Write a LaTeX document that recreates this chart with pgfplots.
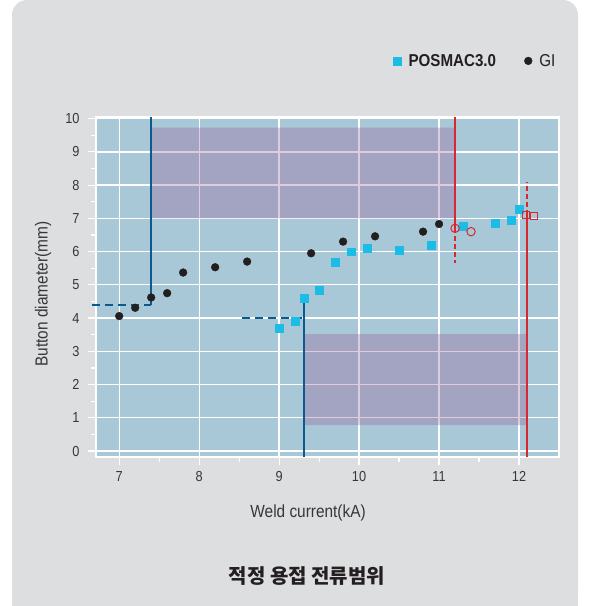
\documentclass[border=0pt]{standalone}
\usepackage{fontspec}
\setmainfont{Liberation Sans}[FakeStretch=0.88]
\newfontfamily\kr{Noto Sans CJK KR}
\usepackage{pgfplots}
\pgfplotsset{compat=1.18}
\definecolor{bggray}{RGB}{221,222,223}
\definecolor{plotbg}{RGB}{168,200,216}
\definecolor{lineblue}{RGB}{10,90,143}
\definecolor{linered}{RGB}{215,40,47}
\definecolor{cyanmk}{RGB}{27,189,230}
\definecolor{darkmk}{RGB}{35,31,32}
\definecolor{purp}{RGB}{151,83,146}
\definecolor{txt}{RGB}{55,55,55}
\begin{document}
\begin{tikzpicture}
\useasboundingbox (0,0) rectangle (590bp,606bp);
\fill[bggray, rounded corners=15bp] (12bp,0bp) rectangle (578bp,606bp);
\fill[bggray] (12bp,0bp) rectangle (578bp,40bp);
\begin{axis}[
  at={(96bp,149bp)}, anchor=south west,
  width=463bp, height=340bp, scale only axis,
  xmin=6.71, xmax=12.5, ymin=-0.18, ymax=10.05,
  xtick={7,8,9,10,11,12}, ytick={0,1,2,3,4,5,6,7,8,9,10},
  minor x tick num=1, minor y tick num=1,
  tick align=outside, tick pos=left,
  major tick length=8bp, minor tick length=5bp,
  every tick/.style={white, line width=1.2bp},
  grid=major, major grid style={white, line width=1.3bp},
  axis line style={white, line width=1.3bp},
  axis background/.style={fill=plotbg},
  /pgf/number format/assume math mode=true,
  tick label style={font=\fontsize{14.5bp}{16bp}\selectfont, text=txt},
  yticklabel style={xshift=-5bp},
  xticklabel style={yshift=-3bp},
  xlabel={Weld current(kA)}, ylabel={Button diameter(mm)},
  label style={font=\fontsize{17.5bp}{20bp}\selectfont, text=txt},
  xlabel style={at={(axis description cs:0.458,-0.165)}, anchor=center},
  ylabel style={at={(axis description cs:-0.1145,0.479)}, anchor=center, rotate=0},
  clip=false,
  legend style={at={(axis description cs:0.6415,1.165)}, anchor=west, draw=none, fill=none,
    inner sep=0pt, font=\fontsize{17.2bp}{19bp}\selectfont, text=darkmk,
    /tikz/every even column/.append style={column sep=26bp}},
  legend columns=2,
  legend image code/.code={\path (0bp,0bp) (13bp,0bp);\draw[mark repeat=2,mark phase=2,#1] plot coordinates {(0bp,0bp)(4bp,0bp)(13bp,0bp)};},
]
% shaded ranges
\addplot[draw=none, fill=purp, fill opacity=0.3, forget plot] coordinates {(7.4,7.0) (11.2,7.0) (11.2,9.73) (7.4,9.73) (7.4,7.0)};
\addplot[draw=none, fill=purp, fill opacity=0.3, forget plot] coordinates {(9.31,0.78) (12.1,0.78) (12.1,3.52) (9.31,3.52) (9.31,0.78)};
% blue limit lines
\addplot[lineblue, line width=1.8bp, forget plot] coordinates {(7.4,4.4) (7.4,10.05)};
\addplot[lineblue, line width=1.8bp, dash pattern=on 8bp off 5bp, forget plot] coordinates {(6.66,4.4) (7.4,4.4)};
\addplot[lineblue, line width=1.8bp, forget plot] coordinates {(9.31,-0.18) (9.31,4.6)};
\addplot[lineblue, line width=1.8bp, dash pattern=on 8bp off 5bp, forget plot] coordinates {(8.54,4.0) (9.31,4.0)};
% red limit lines
\addplot[linered, line width=1.8bp, forget plot] coordinates {(11.2,10.05) (11.2,6.7)};
\addplot[linered, line width=1.8bp, dash pattern=on 5bp off 3bp, forget plot] coordinates {(11.2,6.7) (11.2,5.67)};
\addplot[linered, line width=1.8bp, forget plot] coordinates {(12.1,-0.18) (12.1,7.1)};
\addplot[linered, line width=1.8bp, dash pattern=on 5bp off 3bp, forget plot] coordinates {(12.1,7.1) (12.1,8.08)};
% POSMAC3.0
\addplot[only marks, mark=square*, mark size=3.9bp, color=cyanmk] coordinates {
(9.0,3.7) (9.2,3.91) (9.31,4.6) (9.5,4.84) (9.7,5.68) (9.9,6.0) (10.1,6.1) (10.5,6.04)
(10.9,6.2) (11.3,6.77) (11.7,6.86) (11.9,6.95) (12.0,7.28)};
\addlegendentry{\textbf{POSMAC3.0}}
% GI
\addplot[only marks, mark=*, mark size=3.9bp, color=darkmk] coordinates {
(7.0,4.06) (7.2,4.31) (7.4,4.62) (7.6,4.75) (7.8,5.37) (8.2,5.53) (8.6,5.7) (9.4,5.95)
(9.8,6.3) (10.2,6.46) (10.8,6.6) (11.0,6.83)};
\addlegendentry{GI}
% limit points
\addplot[only marks, mark=o, mark size=4.2bp, forget plot, mark options={draw=linered, fill=plotbg, line width=1bp}] coordinates {(11.2,6.7) (11.4,6.6)};
\addplot[only marks, mark=square, mark size=3.7bp, forget plot, mark options={draw=linered, fill=plotbg, line width=1bp}] coordinates {(12.09,7.11) (12.19,7.08)};
\end{axis}
\node[font=\kr\bfseries\fontsize{20bp}{24bp}\selectfont, text=darkmk] at (307bp,30bp) {적정 용접 전류범위};
\end{tikzpicture}
\end{document}
